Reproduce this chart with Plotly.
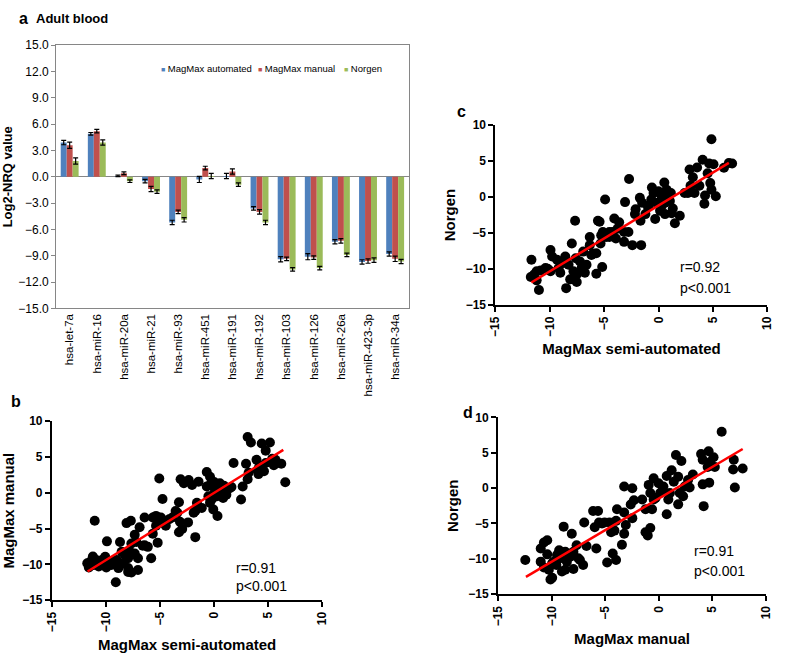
import plotly.graph_objects as go

# ---------------- Panel a data ----------------
mirnas = ["hsa-let-7a", "hsa-miR-16", "hsa-miR-20a", "hsa-miR-21", "hsa-miR-93",
          "hsa-miR-451", "hsa-miR-191", "hsa-miR-192", "hsa-miR-103", "hsa-miR-126",
          "hsa-miR-26a", "hsa-miR-423-3p", "hsa-miR-34a"]
series_names = ["MagMax automated", "MagMax manual", "Norgen"]
magmax_auto = [3.9, 4.9, 0.1, -0.5, -5.2, -0.3, 0.1, -3.6, -9.4, -9.1, -7.4, -9.7, -8.8]
magmax_auto_err = [0.25, 0.15, 0.08, 0.2, 0.25, 0.35, 0.3, 0.2, 0.3, 0.35, 0.25, 0.25, 0.25]
magmax_man = [3.6, 5.2, 0.4, -1.4, -4.0, 1.0, 0.6, -4.0, -9.35, -9.2, -7.3, -9.6, -9.35]
magmax_man_err = [0.35, 0.2, 0.15, 0.3, 0.2, 0.2, 0.3, 0.25, 0.2, 0.2, 0.25, 0.25, 0.3]
norgen = [1.8, 3.9, -0.5, -1.7, -4.9, 0.1, -0.9, -5.2, -10.55, -10.4, -8.9, -9.5, -9.65]
norgen_err = [0.35, 0.3, 0.15, 0.2, 0.25, 0.3, 0.2, 0.25, 0.2, 0.2, 0.2, 0.25, 0.25]
bar_ticks = [15, 12, 9, 6, 3, 0, -3, -6, -9, -12, -15]

# ---------------- Panel b data (MagMax semi-automated vs MagMax manual) ----------------
b_x = [3.1, 3.4, 4.4, 5.16, 4.77, 3.92, 2.95, 1.8, 5.37, 5.67, 6.21, 5.52, 4.77, 4.16, 4.1, 4.61,
       4.0, 6.58, 3.19, 3.1, 2.64, 2.49, 1.44, 0.83, 0.53, 0.22, -0.38, -0.68, -0.38, -0.68, 0.08,
       -0.53, -0.23, 0.22, 0.83, 1.13, -0.08, 0.31, -0.38, -1.14, -1.59, -1.74, -1.89, -1.74,
       -1.44, -2.04, -2.35, -2.8, -3.1, -2.41, -2.95, -3.25, -3.16, -3.4, -3.25, -3.56, -3.86,
       -4.16, -4.47, -4.77, -5.07, -4.92, -5.37, -5.67, -5.22, -5.37, -5.67, -5.22, -5.82, -6.43,
       -6.13, -6.43, -6.89, -7.34, -7.19, -7.7, -8.1, -7.65, -7.79, -7.34, -7.04, -7.95, -8.25,
       -8.7, -8.4, -7.95, -7.65, -7.95, -7.04, -9.0, -8.85, -9.31, -8.55, -9.09, -9.91, -10.07,
       -9.76, -9.97, -10.37, -10.73, -11.04, -11.21, -11.43, -11.73, -11.58, -11.13, -10.67,
       0.5, 0.9, -0.1, 1.6, 0.0, -4.5, -6.6, -8.9, -9.5, -10.9]
b_y = [7.8, 7.04, 6.9, 7.04, 5.89, 4.62, 4.07, 4.16, 4.76, 4.62, 4.07, 3.84, 4.16, 3.61, 2.61, 3.02,
       3.16, 1.47, 2.79, 1.88, 0.87, -0.95, 0.65, 0.87, 1.33, 0.87, 1.1, 2.91, 2.24, 0.87, 0.42,
       -0.5, -0.95, -0.5, -0.72, -0.26, -2.32, -3.25, -1.41, -2.11, -1.41, -2.55, -2.78, -6.2,
       1.56, 1.1, 1.79, 1.33, 1.88, -4.14, -5.05, -5.51, -4.05, -2.78, -1.32, -2.55, -3.46,
       -3.69, -4.6, -0.86, 2.0, -3.46, -3.23, -3.46, -3.92, -4.6, -5.74, -6.97, -9.16, -3.46,
       -7.56, -7.33, -4.83, -5.88, -6.88, -3.92, -4.24, -7.1, -8.26, -8.49, -9.16, -9.16, -8.7,
       -6.88, -9.85, -10.53, -11.13, -11.08, -10.8, -9.39, -10.53, -9.53, -8.26, -12.51, -6.79,
       -8.94, -9.62, -10.44, -9.39, -9.62, -3.92, -8.9, -9.62, -9.85, -10.44, -10.08, -10.31,
       0.1, 1.0, -0.3, 0.8, 1.5, -4.0, -7.4, -9.9, -10.1, -9.4]
b_fit_x = [-11.7, 6.4]
b_fit_y = [-11.0, 6.0]

# ---------------- Panel c data (MagMax semi-automated vs Norgen) ----------------
c_x = [4.85, 4.04, 3.53, 2.84, 3.14, 4.64, 5.04, 6.0, 6.45, 6.75, 4.5, 4.74, 4.85, 5.25, 4.26, 4.2,
       3.74, 3.29, 2.69, 2.39, 2.93, 1.94, 1.49, 1.19, 0.52, -0.62, -0.47, -0.02, 0.28, 0.73, 0.88,
       1.12, 0.58, 1.03, -0.17, 0.28, 0.13, 0.58, -0.32, -0.68, -0.98, -1.22, -1.73, -1.52, -2.12,
       -2.18, -1.67, -1.61, -2.42, -2.72, -3.09, -3.18, -2.78, -3.18, -3.63, -4.08, -3.78, -3.93,
       -4.53, -4.83, -4.92, -5.58, -5.43, -5.13, -5.28, -5.34, -6.33, -6.33, -5.73, -5.19, -5.73,
       -6.78, -6.18, -6.93, -7.68, -7.98, -7.62, -7.23, -7.08, -7.53, -7.53, -8.13, -8.5, -8.28,
       -8.58, -9.04, -9.19, -9.34, -9.94, -9.79, -10.4, -10.85, -11.21, -11.45, -11.69, -11.75,
       -11.0, -11.21, -9.94, -7.83, -6.63, -4.53, -4.23, 0.4, 1.3, -0.9, -8.8, -10.2, -6.0]
c_y = [8.03, 5.19, 4.1, 3.83, 2.74, 4.65, 4.56, 4.06, 4.74, 4.65, 3.29, 1.93, 1.02, 0.1, 0.2, -0.93,
       1.56, 0.56, 0.56, 0.56, 1.56, -2.61, -3.65, -2.25, 2.01, 1.33, 0.56, 0.79, 0.1, 1.02, 0.34,
       0.56, -0.8, -0.57, -0.8, -1.25, -1.93, -2.38, -3.06, -0.34, -1.38, -2.38, -0.12, -0.8, -1.7,
       -2.38, -3.29, -6.7, -6.7, 2.51, -0.71, -4.88, -4.88, -6.24, -3.53, -2.98, -4.42, -5.78,
       -4.88, -5.56, -0.34, -3.3, -3.44, -4.88, -5.33, -6.47, -5.56, -6.7, -7.83, -9.73, -10.68,
       -10.55, -8.06, -7.6, -3.3, -6.47, -8.51, -8.97, -9.88, -10.78, -11.82, -11.46, -12.68,
       -9.42, -8.29, -10.55, -9.87, -8.74, -7.38, -8.29, -9.87, -10.24, -10.33, -10.78, -8.74,
       -11.14, -12.95, -11.6, -10.33, -10.33, -9.42, -5.56, -4.88, -0.3, -1.6, -1.2, -9.2, -10.0,
       -7.9]
c_fit_x = [-11.7, 6.45]
c_fit_y = [-11.9, 4.74]

# ---------------- Panel d data (MagMax manual vs Norgen) ----------------
d_x = [5.87, 3.95, 4.65, 4.1, 4.8, 5.11, 5.23, 4.56, 4.71, 4.1, 4.19, 7.0, 6.94, 7.83, 7.1, 3.18,
       2.73, 2.88, 2.11, 1.6, 1.2, 0.74, 1.81, 2.42, 1.96, 2.27, 1.81, 1.04, 0.89, 0.74, 0.43,
       -0.02, -0.48, -0.94, -0.79, -0.48, 0.13, -0.63, -1.24, -1.55, -1.24, -1.03, -0.79, -2.47,
       -2.32, -2.62, -2.47, -3.23, -3.23, -3.08, -3.23, -3.44, -3.9, -3.99, -4.14, -3.99, -4.3,
       -4.6, -4.45, -4.82, -5.06, -5.58, -6.13, -5.67, -5.98, -5.83, -6.96, -6.75, -7.67, -7.97,
       -8.12, -7.36, -7.06, -7.51, -7.97, -8.27, -8.88, -8.73, -9.04, -8.73, -9.19, -9.5, -9.56,
       -9.8, -10.11, -9.95, -10.41, -10.72, -11.02, -11.02, -10.72, -10.26, -10.41, -12.46,
       -9.95, -8.58, 0.3, 1.4, -0.3, -8.3, -9.3, -5.3]
d_y = [7.97, 4.83, 5.2, 4.0, 3.68, 4.37, 2.99, 2.99, 0.77, 0.53, -2.55, 4.0, 2.62, 2.76, 0.08, 1.93,
       1.14, 0.08, 3.82, 4.69, 2.53, 1.7, 1.6, 0.22, -0.7, -1.16, -2.3, -0.7, -1.62, -3.69, 0.22,
       0.68, 1.38, 0.45, -0.7, -1.62, -0.7, -3.0, -3.0, -1.62, -6.24, -6.7, -5.65, -0.01, -1.72,
       -2.32, -4.25, 0.22, -3.46, -5.22, -6.46, -8.0, -3.0, -4.63, -6.01, -10.16, -9.25, -4.86,
       -6.24, -10.53, -4.86, -4.86, -3.23, -3.23, -5.54, -8.55, -4.86, -8.18, -8.09, -9.0, -6.46,
       -10.16, -10.86, -9.92, -11.44, -9.69, -5.45, -9.0, -11.78, -11.54, -9.92, -9.46, -10.86,
       -10.4, -12.91, -12.68, -7.37, -7.69, -8.55, -10.4, -11.23, -11.54, -9.37, -10.16, -10.63,
       -10.4, -0.5, 0.9, -1.4, -9.6, -8.8, -5.0]
d_fit_x = [-12.4, 7.83]
d_fit_y = [-12.56, 5.52]

scatter_ticks = [-15, -10, -5, 0, 5, 10]

# ---------------- Figure ----------------
W, H = 785, 656
FONT = "Liberation Sans, Arial, sans-serif"
BAR_COLORS = ["#4F81BD", "#C0504D", "#9BBB59"]


def px_x(p):
    return p / W


def px_y(p):
    return 1 - p / H


fig = go.Figure()

# Panel a bars
for name, vals, errs, col in zip(series_names, [magmax_auto, magmax_man, norgen],
                                 [magmax_auto_err, magmax_man_err, norgen_err], BAR_COLORS):
    fig.add_trace(go.Bar(
        x=mirnas, y=vals, name=name, marker=dict(color=col, line=dict(width=0)),
        error_y=dict(type="data", array=errs, visible=True, color="black",
                     thickness=1.2, width=2.5),
        xaxis="x", yaxis="y", showlegend=False))

# Scatter panels
for xs, ys, fx, fy, ax in [
    (c_x, c_y, c_fit_x, c_fit_y, "2"),
    (b_x, b_y, b_fit_x, b_fit_y, "3"),
    (d_x, d_y, d_fit_x, d_fit_y, "4"),
]:
    fig.add_trace(go.Scatter(
        x=xs, y=ys, mode="markers", marker=dict(color="black", size=10),
        xaxis="x" + ax, yaxis="y" + ax, showlegend=False, cliponaxis=False))
    fig.add_trace(go.Scatter(
        x=fx, y=fy, mode="lines", line=dict(color="#FF0000", width=2.5),
        xaxis="x" + ax, yaxis="y" + ax, showlegend=False))


def scatter_axes(xdom, ydom, xtitle, ytitle):
    common = dict(showgrid=False, zeroline=False, showline=True, linecolor="black",
                  linewidth=2, ticks="outside", ticklen=5, tickwidth=2, tickcolor="black",
                  tickfont=dict(family=FONT, size=12, color="black", weight="bold"),
                  range=[-15, 10], tickvals=scatter_ticks, fixedrange=True)
    xa = dict(common, domain=xdom, tickangle=-90,
              title=dict(text=xtitle, font=dict(family=FONT, size=15, color="black", weight="bold"),
                         standoff=8))
    ya = dict(common, domain=ydom,
              title=dict(text=ytitle, font=dict(family=FONT, size=15, color="black", weight="bold"),
                         standoff=6))
    return xa, ya


xa2, ya2 = scatter_axes([px_x(497.3), px_x(774.3)], [px_y(304.3), px_y(120.7)],
                        "MagMax semi-automated", "Norgen")
xa3, ya3 = scatter_axes([px_x(45.7), px_x(321)], [px_y(606), px_y(423.3)],
                        "MagMax semi-automated", "MagMax manual")
xa4, ya4 = scatter_axes([px_x(500), px_x(772.7)], [px_y(600), px_y(419.3)],
                        "MagMax manual", "Norgen")
xa2["anchor"] = "y2"; ya2["anchor"] = "x2"
xa3["anchor"] = "y3"; ya3["anchor"] = "x3"
xa4["anchor"] = "y4"; ya4["anchor"] = "x4"

fig.update_layout(
    width=W, height=H,
    margin=dict(l=0, r=0, t=0, b=0),
    paper_bgcolor="white", plot_bgcolor="white",
    font=dict(family=FONT, color="black"),
    showlegend=False,
    barmode="group", bargap=0.34, bargroupgap=0.0,
    xaxis=dict(domain=[px_x(50), px_x(409)], anchor="y", showgrid=False,
               showline=True, linecolor="#868686", linewidth=1, mirror=True,
               ticks="", tickangle=-90, tickfont=dict(family=FONT, size=11.5, color="black"),
               fixedrange=True),
    yaxis=dict(domain=[px_y(308), px_y(39)], anchor="x", range=[-15, 15],
               tickvals=bar_ticks, tickformat=".1f", showgrid=False,
               showline=True, linecolor="#868686", linewidth=1, mirror=True,
               ticks="outside", ticklen=4, tickcolor="#868686",
               zeroline=True, zerolinecolor="#868686", zerolinewidth=1,
               tickfont=dict(family=FONT, size=12, color="black"),
               title=dict(text="Log2-NRQ value",
                          font=dict(family=FONT, size=13, color="black", weight="bold"),
                          standoff=4),
               fixedrange=True),
    xaxis2=xa2, yaxis2=ya2, xaxis3=xa3, yaxis3=ya3, xaxis4=xa4, yaxis4=ya4,
)

# Legend for panel a (Excel-style small squares)
legend_x = [155, 254, 341]
for name, col, lx in zip(series_names, BAR_COLORS, legend_x):
    fig.add_annotation(xref="paper", yref="paper", xanchor="left", yanchor="middle",
                       showarrow=False, x=px_x(lx), y=px_y(63),
                       text='<span style="color:%s;font-size:7px">■</span> %s' % (col, name),
                       font=dict(family=FONT, size=9.5, color="black"))

ann = [
    dict(text="<b>a</b>", x=px_x(10), y=px_y(12), font=dict(size=16)),
    dict(text="<b>Adult blood</b>", x=px_x(27), y=px_y(12), font=dict(size=13)),
    dict(text="<b>b</b>", x=px_x(2), y=px_y(403), font=dict(size=16)),
    dict(text="<b>c</b>", x=px_x(456), y=px_y(107), font=dict(size=16)),
    dict(text="<b>d</b>", x=px_x(462), y=px_y(414), font=dict(size=16)),
    dict(text="r=0.92", x=px_x(683), y=px_y(266), font=dict(size=14)),
    dict(text="p<0.001", x=px_x(683), y=px_y(287), font=dict(size=14)),
    dict(text="r=0.91", x=px_x(231), y=px_y(573), font=dict(size=14)),
    dict(text="p<0.001", x=px_x(231), y=px_y(592), font=dict(size=14)),
    dict(text="r=0.91", x=px_x(697), y=px_y(556), font=dict(size=14)),
    dict(text="p<0.001", x=px_x(697), y=px_y(576), font=dict(size=14)),
]
for a in ann:
    fig.add_annotation(xref="paper", yref="paper", xanchor="left", yanchor="middle",
                       showarrow=False, text=a["text"], x=a["x"], y=a["y"],
                       font=dict(family=FONT, color="black", size=a["font"]["size"]))

fig.write_html("out.html",
               config={"displayModeBar": False, "staticPlot": True},
               post_script="document.body.style.margin='0px';document.body.style.padding='0px';"
                           "document.body.style.overflow='hidden';")
